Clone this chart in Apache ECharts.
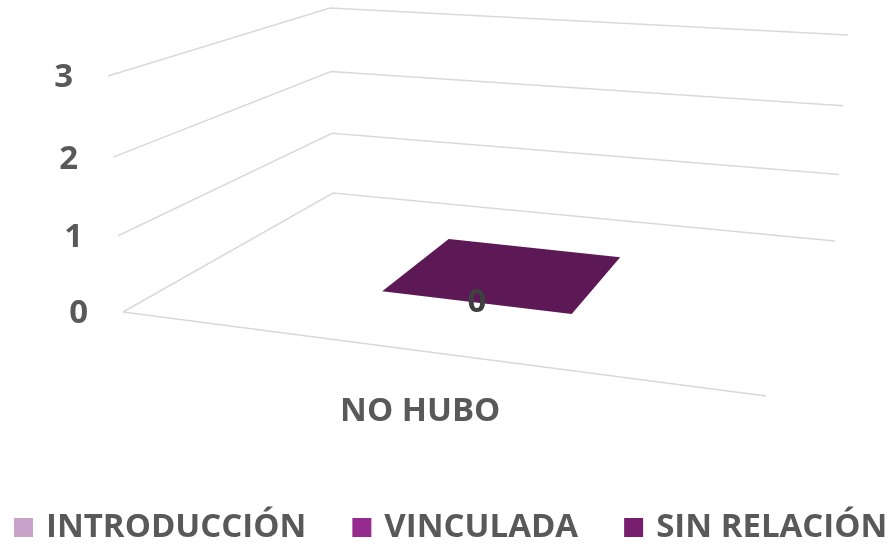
<!DOCTYPE html>
<html>
<head>
<meta charset="utf-8">
<script src="https://cdn.jsdelivr.net/npm/echarts@6/dist/echarts.min.js"></script>
<style>
  html, body { margin: 0; padding: 0; background: #fff; }
  #chart { width: 893px; height: 545px; }
</style>
</head>
<body>
<div id="chart"></div>
<script>
/* ---- data ---- */
const categories = ["NO HUBO"];
const seriesNames = ["INTRODUCCIÓN", "VINCULADA", "SIN RELACIÓN"];
const introduccion = [null];
const vinculada = [null];
const sinRelacion = [0];
const yTicks = [0, 1, 2, 3];

/* ---- look ---- */
const colors = ["#c8a2c8", "#952a8f", "#771f6e"];
const FONT = "'Open Sans', 'Noto Sans', sans-serif";
const TXT = "#595959";
const GRIDC = "#d9d9d9";

/* 3D box seen by the camera: floor (value 0) and roof (max value) corners */
const box = {
  f0: [[123, 312], [766, 396]],
  b0: [[333, 193], [835, 241]],
  f1: [[108, 76], [784, 133]],
  b1: [[330, 8], [848, 35]]
};
const persp = 0.955;              // vertical foreshortening
const barU = [0.31, 0.63];        // bar span inside its category band
const barW = [0.36, 0.76];        // bar depth inside the floor

const lerp = (a, b, t) => [a[0] + (b[0] - a[0]) * t, a[1] + (b[1] - a[1]) * t];
function project(u, w, t) {
  const s = t * persp / ((1 - t) + t * persp);
  const lo = lerp(lerp(box.f0[0], box.f0[1], u), lerp(box.b0[0], box.b0[1], u), w);
  const hi = lerp(lerp(box.f1[0], box.f1[1], u), lerp(box.b1[0], box.b1[1], u), w);
  return lerp(lo, hi, s);
}
// value -> 0..1 height through the (hidden) value axis
function frac(api, v) {
  const y0 = api.coord([0, yTicks[0]])[1];
  const y1 = api.coord([0, yTicks[yTicks.length - 1]])[1];
  return (y0 - api.coord([0, v])[1]) / (y0 - y1);
}
function shade(hex, k) {
  const c = echarts.color.parse(hex);
  return "rgb(" + [0, 1, 2].map((i) => Math.round(c[i] * k)).join(",") + ")";
}

/* ---- renderers ---- */
function renderWall(params, api) {
  const v = api.value(1);
  const t = frac(api, v);
  const a = project(0, 0, t), b = project(0, 1, t), c = project(1, 1, t);
  return {
    type: "group",
    children: [
      { type: "polyline", shape: { points: [a, b, c] }, style: { stroke: GRIDC, lineWidth: 1.5, fill: null } },
      { type: "text", x: a[0] - 35, y: a[1] + 2,
        style: { text: String(v), align: "right", verticalAlign: "middle", fill: TXT,
                 font: "bold 33px " + FONT } }
    ]
  };
}

function renderCategory(params, api) {
  const i = api.value(0);
  const n = categories.length;
  const mid = (i + (barU[0] + barU[1]) / 2) / n;
  const p = project(mid, 0, 0);
  const children = [
    { type: "text", x: p[0] - 5, y: p[1] + 60,
      style: { text: categories[i], align: "center", verticalAlign: "middle", fill: TXT,
               font: "bold 33px " + FONT } }
  ];
  if (i === 0) {
    children.push({ type: "line",
      shape: { x1: box.f0[0][0], y1: box.f0[0][1], x2: box.f0[1][0], y2: box.f0[1][1] },
      style: { stroke: GRIDC, lineWidth: 1.5 } });
  }
  return { type: "group", children };
}

function makeBarRenderer(color) {
  return function (params, api) {
    const i = api.value(0), v = api.value(1);
    const n = categories.length;
    const u0 = (i + barU[0]) / n, u1 = (i + barU[1]) / n;
    const [w0, w1] = barW;
    const tb = frac(api, 0), t = frac(api, v);
    const P = (u, w, tt) => project(u, w, tt);
    const kids = [];
    if (t > tb) {
      kids.push({ type: "polygon", shape: { points: [P(u1, w0, tb), P(u1, w1, tb), P(u1, w1, t), P(u1, w0, t)] },
                  style: { fill: shade(color, 0.7) } });
      kids.push({ type: "polygon", shape: { points: [P(u0, w0, tb), P(u1, w0, tb), P(u1, w0, t), P(u0, w0, t)] },
                  style: { fill: color } });
    }
    kids.push({ type: "polygon", shape: { points: [P(u0, w0, t), P(u1, w0, t), P(u1, w1, t), P(u0, w1, t)] },
                style: { fill: shade(color, 0.78) } });
    const lp = P((u0 + u1) / 2, w0, t);
    kids.push({ type: "text", x: lp[0], y: lp[1], z2: 10,
      style: { text: String(v), align: "center", verticalAlign: "middle", fill: "#404040",
               font: "bold 33px " + FONT } });
    return { type: "group", children: kids };
  };
}

const toData = (arr) => arr.map((v, i) => (v === null ? null : [i, v])).filter((d) => d);
const barSets = [introduccion, vinculada, sinRelacion];

const chart = echarts.init(document.getElementById("chart"), null, { renderer: "canvas" });
chart.setOption({
  animation: false,
  grid: { left: 0, right: 0, top: 0, bottom: 0 },
  xAxis: { type: "category", data: categories, show: false },
  yAxis: { type: "value", min: 0, max: 3, interval: 1, show: false },
  legend: {
    data: seriesNames,
    left: 14, top: 511, width: 893, padding: 0,
    icon: "rect", itemWidth: 19, itemHeight: 19, itemGap: 46,
    textStyle: { fontFamily: FONT, fontWeight: "bold", fontSize: 33, color: TXT, padding: [0, 0, 0, 8] }
  },
  series: [
    { type: "custom", name: "walls", silent: true, z: 1, data: yTicks.map((v) => [0, v]), renderItem: renderWall },
    { type: "custom", name: "axis", silent: true, z: 1, data: categories.map((c, i) => [i, 0]), renderItem: renderCategory },
    ...seriesNames.map((name, k) => ({
      type: "custom", name, z: 2,
      itemStyle: { color: colors[k] },
      data: toData(barSets[k]),
      renderItem: makeBarRenderer(colors[k])
    }))
  ]
});
</script>
</body>
</html>
